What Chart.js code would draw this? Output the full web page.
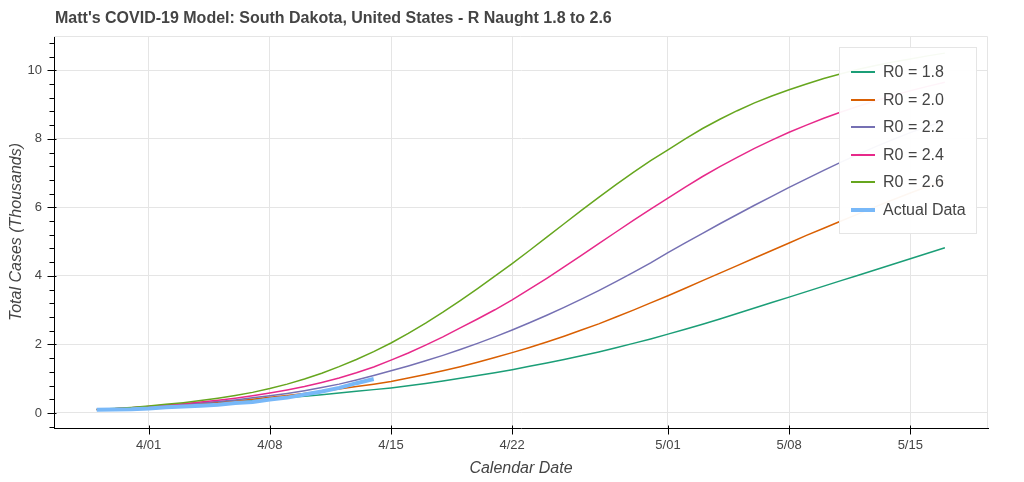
<!DOCTYPE html>
<html>
<head>
<meta charset="utf-8">
<script src="https://cdn.jsdelivr.net/npm/chart.js@4/dist/chart.umd.min.js"></script>
<style>
html,body{margin:0;padding:0;background:#fff;}
#wrap{position:relative;width:1024px;height:482px;overflow:hidden;}
#title{position:absolute;left:55px;top:9px;font:bold 16px "Liberation Sans",Arial,sans-serif;color:#444;white-space:nowrap;}
#legend{position:absolute;left:839px;top:47px;width:138px;height:187px;background:rgba(255,255,255,0.95);border:1px solid #e5e5e5;box-sizing:border-box;font:16px "Liberation Sans",Arial,sans-serif;color:#444;}
.item{position:absolute;left:43px;height:20px;line-height:20px;white-space:nowrap;}
.sw{position:absolute;left:11px;width:24px;}
</style>
</head>
<body>
<div id="wrap">
<canvas id="c" width="1024" height="482"></canvas>
<div id="title">Matt's COVID-19 Model: South Dakota, United States - R Naught 1.8 to 2.6</div>
<div id="legend"></div>
</div>
<script>
// Day offsets are relative to 4/01 (day 0). Series start on 3/29 (day -3), one value per day.
const startDay = -3;
const xTickDays = [0, 7, 14, 21, 30, 37, 44];
const xTickLabels = ['4/01', '4/08', '4/15', '4/22', '5/01', '5/08', '5/15'];
const yMajorTicks = [0, 2, 4, 6, 8, 10];
const yMinorTicks = [-0.4, 0.4, 0.8, 1.2, 1.6, 2.4, 2.8, 3.2, 3.6, 4.4, 4.8, 5.2, 5.6, 6.4, 6.8, 7.2, 7.6, 8.4, 8.8, 9.2, 9.6, 10.4, 10.8];

const seriesNames = ['R0 = 1.8', 'R0 = 2.0', 'R0 = 2.2', 'R0 = 2.4', 'R0 = 2.6', 'Actual Data'];

const r18 = [0.10,0.12,0.14,0.17,0.20,0.23,0.26,0.29,0.33,0.37,0.41,0.45,0.49,0.53,0.58,0.63,0.68,0.73,0.79,0.86,0.93,1.01,1.09,1.17,1.26,1.36,1.46,1.56,1.67,1.78,1.90,2.03,2.16,2.30,2.44,2.59,2.74,2.90,3.06,3.22,3.38,3.54,3.70,3.86,4.02,4.18,4.34,4.50,4.66,4.82];
const r20 = [0.10,0.12,0.14,0.17,0.20,0.24,0.27,0.31,0.35,0.40,0.46,0.51,0.57,0.63,0.70,0.77,0.84,0.92,1.02,1.12,1.23,1.35,1.48,1.62,1.76,1.91,2.07,2.24,2.42,2.60,2.80,3.00,3.21,3.42,3.64,3.86,4.08,4.30,4.52,4.74,4.96,5.18,5.39,5.60,5.81,6.02,6.22,6.42,6.61,6.80];
const r22 = [0.10,0.12,0.15,0.18,0.21,0.25,0.29,0.33,0.38,0.44,0.50,0.57,0.65,0.74,0.84,0.96,1.09,1.23,1.37,1.52,1.68,1.85,2.03,2.22,2.42,2.63,2.85,3.08,3.32,3.57,3.83,4.10,4.38,4.68,4.96,5.24,5.52,5.79,6.06,6.32,6.58,6.83,7.08,7.32,7.55,7.77,7.98,8.18,8.36,8.52];
const r24 = [0.10,0.12,0.15,0.19,0.23,0.27,0.32,0.37,0.43,0.50,0.58,0.67,0.77,0.89,1.02,1.17,1.34,1.54,1.75,1.98,2.22,2.48,2.74,3.01,3.30,3.61,3.93,4.26,4.60,4.94,5.28,5.62,5.95,6.27,6.59,6.90,7.19,7.46,7.72,7.96,8.19,8.40,8.60,8.78,8.95,9.11,9.26,9.40,9.53,9.65];
const r26 = [0.10,0.13,0.16,0.20,0.25,0.30,0.36,0.43,0.51,0.60,0.71,0.84,0.99,1.16,1.35,1.56,1.79,2.04,2.32,2.62,2.94,3.28,3.63,3.99,4.36,4.74,5.13,5.52,5.91,6.29,6.66,7.02,7.36,7.68,8.00,8.30,8.57,8.82,9.05,9.25,9.43,9.60,9.76,9.90,10.03,10.14,10.24,10.33,10.42,10.50];
const actual = [0.090,0.101,0.108,0.129,0.165,0.187,0.212,0.240,0.288,0.320,0.393,0.447,0.536,0.626,0.730,0.868,0.988];

const colors = ['#1b9e77', '#d95f02', '#7570b3', '#e7298a', '#66a61e', '#78b8f8'];
const widths = [1.5, 1.5, 1.5, 1.5, 1.5, 4];
const allSeries = [r18, r20, r22, r24, r26, actual];

const FONT = '"Liberation Sans", Arial, sans-serif';

function toPoints(vals) {
  return vals.map((v, i) => ({x: startDay + i, y: v}));
}

const datasets = allSeries.map((vals, k) => ({
  label: seriesNames[k],
  data: toPoints(vals),
  borderColor: colors[k],
  backgroundColor: colors[k],
  borderWidth: widths[k],
  pointRadius: 0,
  fill: false,
  tension: 0,
  order: 5 - k
}));

const axisDecor = {
  id: 'axisDecor',
  beforeDatasetsDraw(chart) {
    const {ctx, chartArea: a} = chart;
    ctx.save();
    ctx.strokeStyle = '#e5e5e5';
    ctx.lineWidth = 1;
    ctx.beginPath();
    ctx.moveTo(a.left, Math.round(a.top) + 0.5);
    ctx.lineTo(Math.round(a.right) - 0.5, Math.round(a.top) + 0.5);
    ctx.lineTo(Math.round(a.right) - 0.5, a.bottom);
    ctx.stroke();
    ctx.restore();
  },
  afterDraw(chart) {
    const {ctx, scales: {x, y}} = chart;
    ctx.save();
    ctx.strokeStyle = '#000';
    ctx.lineWidth = 1;
    ctx.beginPath();
    const ax = Math.round(y.right) - 0.5;
    y.ticks.forEach(t => {
      const major = yMajorTicks.includes(t.value);
      const py = Math.round(y.getPixelForValue(t.value)) + 0.5;
      ctx.moveTo(ax - (major ? 6 : 4), py);
      ctx.lineTo(ax + (major ? 3 : 0.5), py);
    });
    const ay = Math.round(x.top) + 0.5;
    x.ticks.forEach(t => {
      const px = Math.round(x.getPixelForValue(t.value)) + 0.5;
      ctx.moveTo(px, ay - 3);
      ctx.lineTo(px, ay + 6);
    });
    ctx.stroke();
    ctx.restore();
  }
};

new Chart(document.getElementById('c'), {
  type: 'line',
  data: {datasets},
  options: {
    responsive: false,
    animation: false,
    devicePixelRatio: 1,
    layout: {padding: {left: 0, right: 36, top: 36, bottom: 0}},
    plugins: {legend: {display: false}, title: {display: false}, tooltip: {enabled: false}},
    scales: {
      x: {
        type: 'linear',
        min: -5.47,
        max: 48.49,
        afterBuildTicks: s => { s.ticks = xTickDays.map(v => ({value: v})); },
        afterFit: s => { s.height = 54; },
        grid: {color: '#e5e5e5', drawTicks: false, lineWidth: 1},
        border: {display: true, color: '#000', width: 1},
        ticks: {
          autoSkip: false, maxRotation: 0, padding: 10,
          color: '#444', font: {family: FONT, size: 13},
          callback: v => { const i = xTickDays.indexOf(v); return i >= 0 ? xTickLabels[i] : ''; }
        },
        title: {display: true, text: 'Calendar Date', color: '#444',
          font: {family: FONT, size: 16, style: 'italic'}, padding: {top: 0, bottom: 4}}
      },
      y: {
        type: 'linear',
        min: -0.44,
        max: 11.0,
        afterBuildTicks: s => {
          s.ticks = yMajorTicks.concat(yMinorTicks).sort((a, b) => a - b).map(v => ({value: v}));
        },
        afterFit: s => { s.width = 54; },
        grid: {
          drawTicks: false, lineWidth: 1,
          color: c => (c.tick && yMajorTicks.includes(c.tick.value)) ? '#e5e5e5' : 'rgba(0,0,0,0)'
        },
        border: {display: true, color: '#000', width: 1},
        ticks: {
          autoSkip: false, padding: 12,
          color: '#444', font: {family: FONT, size: 13},
          callback: v => yMajorTicks.includes(v) ? String(v) : ''
        },
        title: {display: true, text: 'Total Cases (Thousands)', color: '#444',
          font: {family: FONT, size: 16, style: 'italic'}, padding: {top: 7, bottom: 0}}
      }
    }
  },
  plugins: [axisDecor]
});

// Legend (HTML text) built from the dataset names and colours
const leg = document.getElementById('legend');
seriesNames.forEach((name, k) => {
  const top = Math.round(14 + k * 27.6);
  const lw = k === 5 ? 4 : 2;
  const sw = document.createElement('div');
  sw.className = 'sw';
  sw.style.top = Math.round(top + 10 - lw / 2) + 'px';
  sw.style.height = lw + 'px';
  sw.style.background = colors[k];
  leg.appendChild(sw);
  const d = document.createElement('div');
  d.className = 'item';
  d.style.top = top + 'px';
  d.textContent = name;
  leg.appendChild(d);
});
</script>
</body>
</html>
